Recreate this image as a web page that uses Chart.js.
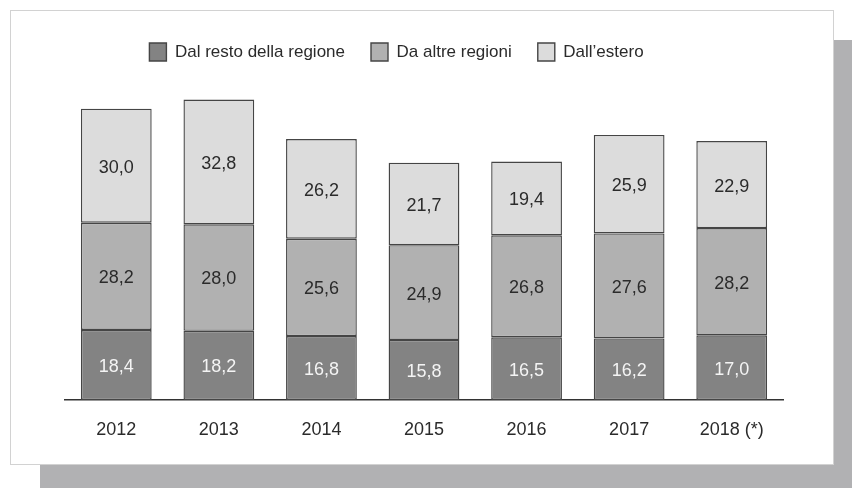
<!DOCTYPE html>
<html>
<head>
<meta charset="utf-8">
<script src="https://cdn.jsdelivr.net/npm/chart.js@4.4.1/dist/chart.umd.min.js"></script>
<style>
  html, body { margin: 0; padding: 0; background: #ffffff; }
  #wrap { position: relative; width: 852px; height: 488px; overflow: hidden; background: #ffffff; }
  #shadow { position: absolute; left: 40px; top: 40px; width: 812px; height: 448px; background: #b1b1b3; }
  #card { position: absolute; left: 10px; top: 10px; width: 822px; height: 453px; background: #ffffff; border: 1px solid #d2d2d2; }
  #c { position: absolute; left: 0; top: 0; }
</style>
</head>
<body>
<div id="wrap">
  <div id="shadow"></div>
  <div id="card"></div>
  <canvas id="c" width="852" height="488"></canvas>
</div>
<script>
const categories = ['2012', '2013', '2014', '2015', '2016', '2017', '2018 (*)'];
const seriesNames = ['Dal resto della regione', 'Da altre regioni', "Dall\u2019estero"];
const restoRegione = [18.4, 18.2, 16.8, 15.8, 16.5, 16.2, 17.0];
const altreRegioni = [28.2, 28.0, 25.6, 24.9, 26.8, 27.6, 28.2];
const estero = [30.0, 32.8, 26.2, 21.7, 19.4, 25.9, 22.9];

const fillColors = ['#838383', '#b1b1b1', '#dcdcdc'];
const labelColors = ['#f4f4f4', '#2b2b2b', '#2b2b2b'];
const FONT = "'Liberation Sans', Arial, sans-serif";

const valueLabels = {
  id: 'valueLabels',
  afterDatasetsDraw(chart) {
    const ctx = chart.ctx;
    ctx.save();
    ctx.font = '18px ' + FONT;
    ctx.textAlign = 'center';
    ctx.textBaseline = 'middle';
    chart.data.datasets.forEach((ds, di) => {
      const meta = chart.getDatasetMeta(di);
      meta.data.forEach((el, i) => {
        const v = ds.data[i];
        ctx.fillStyle = labelColors[di];
        ctx.fillText(v.toFixed(1).replace('.', ','), el.x, (el.y + el.base) / 2 + 2);
      });
    });
    ctx.restore();
  }
};

const data = {
  labels: categories,
  datasets: [restoRegione, altreRegioni, estero].map((vals, i) => ({
    label: seriesNames[i],
    data: vals,
    backgroundColor: fillColors[i],
    borderColor: '#454545',
    borderWidth: 1.4,
    borderSkipped: false,
    barPercentage: 0.69,
    categoryPercentage: 1.0
  }))
};

new Chart(document.getElementById('c'), {
  type: 'bar',
  data: data,
  plugins: [valueLabels],
  options: {
    responsive: false,
    animation: false,
    devicePixelRatio: 1,
    layout: { padding: { left: 10, right: 69, top: 17, bottom: 0 } },
    plugins: {
      tooltip: { enabled: false },
      legend: {
        position: 'top',
        align: 'center',
        labels: {
          font: { family: FONT, size: 17 },
          color: '#2b2b2b',
          boxWidth: 17,
          boxHeight: 18,
          padding: 26
        }
      }
    },
    scales: {
      x: {
        stacked: true,
        z: 1,
        grid: { display: false, drawTicks: false },
        border: { display: true, color: '#333333', width: 1.5 },
        ticks: { font: { family: FONT, size: 18 }, color: '#2b2b2b', padding: 19 },
        afterFit(scale) { scale.height = 88; }
      },
      y: {
        stacked: true,
        min: 0,
        max: 86.5,
        grid: { display: false, drawTicks: false },
        border: { display: false },
        ticks: { display: false },
        afterFit(scale) { scale.width = 55; }
      }
    }
  }
});
</script>
</body>
</html>
